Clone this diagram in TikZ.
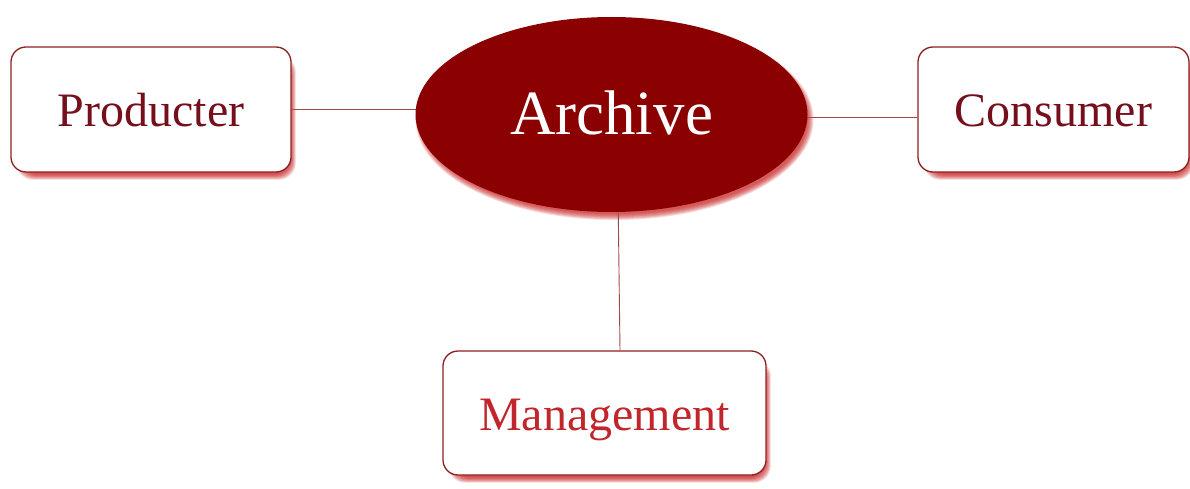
\documentclass[tikz,border=0pt]{standalone}
\usepackage{fontspec}
\setmainfont{Liberation Serif}
\usetikzlibrary{shapes.geometric,calc,backgrounds}

\definecolor{maroon}{HTML}{8B0000}
\definecolor{boxline}{HTML}{8E2020}
\definecolor{labeldark}{HTML}{760F1C}
\definecolor{labelred}{HTML}{C0262C}
\definecolor{linkcol}{HTML}{A04848}
\definecolor{glow}{HTML}{C41414}

\tikzset{
  roundbox/.style={draw=boxline, line width=1.3pt, fill=white, rounded corners=15pt,
    inner sep=0pt, text height=34pt, text depth=0pt,
    font=\fontsize{48}{50}\selectfont},
  hub/.style={ellipse, fill=maroon, draw=none, inner sep=0pt,
    minimum width=392pt, minimum height=195pt, text=white,
    text height=41pt, text depth=0pt, font=\fontsize{63}{66}\selectfont},
  link/.style={draw=linkcol, line width=0.9pt},
  boxglow/.style={fill=glow, opacity=0.2, rounded corners=17pt},
  hubglow/.style={fill=glow, opacity=0.16}
}

\begin{document}
\begin{tikzpicture}[x=1pt,y=-1pt]
  \useasboundingbox (0,0) rectangle (1190,489);

  % main nodes
  \node[hub] (a) at (611.5,114.5) {Archive};
  \node[roundbox, text=labeldark, minimum width=280pt, minimum height=125pt]
    (p) at (151,109.5) {Producter};
  \node[roundbox, text=labeldark, minimum width=271pt, minimum height=125pt]
    (c) at (1053.5,109.5) {Consumer};
  \node[roundbox, text=labelred, minimum width=323pt, minimum height=124pt]
    (m) at (604.5,413) {Management};

  % attachment points of the connectors
  \coordinate (cl) at ($(c.west)+(0,8)$);
  \coordinate (at) at ($(a.south)+(6.5,-20)$);
  \coordinate (mt) at ($(m.north)+(15.5,0)$);

  \begin{pgfonlayer}{background}
    % soft red shadows, offset down and to the right
    \foreach \n in {p,c,m}{
      \foreach \s in {1,...,6}{
        \fill[boxglow] ($(\n.north west)+(5+\s,8+\s)$)
          rectangle ($(\n.south east)+(5-\s,8-\s)$);
      }
    }
    \foreach \s in {0,...,6}{
      \fill[hubglow] (a.center) ++(3,5)
        ellipse [x radius=196+\s-3, y radius=97.5+\s-3];
    }

    % connectors
    \draw[link] (p.east) -- (p.east -| a.center);
    \draw[link] (cl) -- (cl -| a.center);
    \draw[link] (at) -- (mt);
  \end{pgfonlayer}
\end{tikzpicture}
\end{document}
